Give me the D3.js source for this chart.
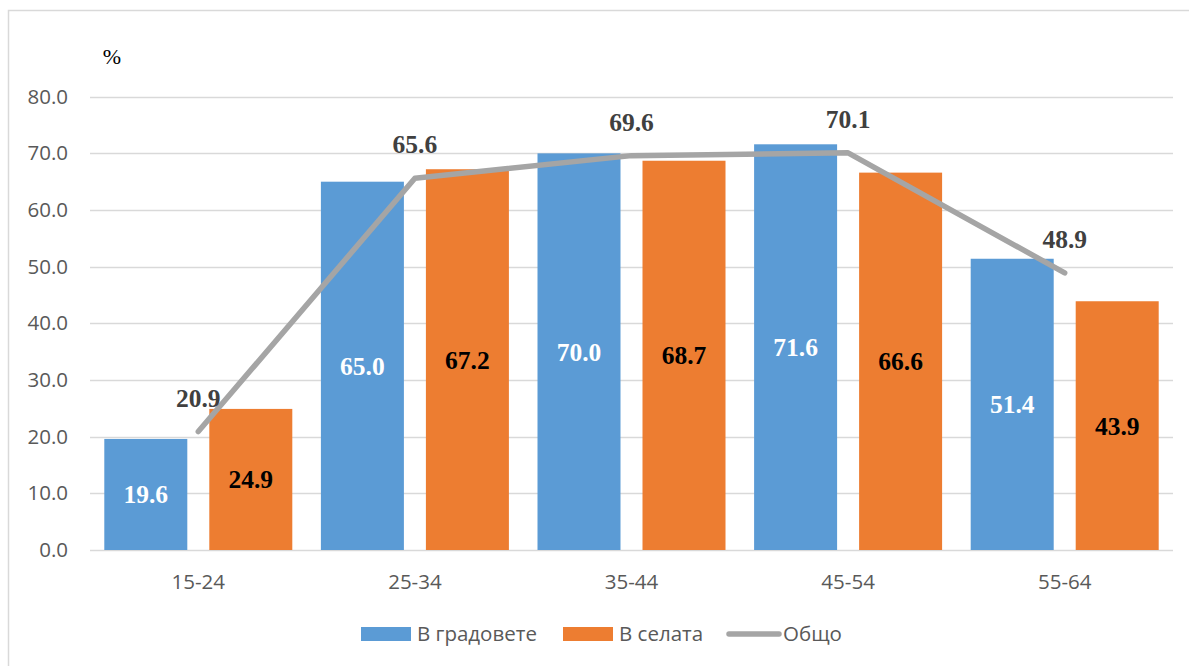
<!DOCTYPE html>
<html>
<head>
<meta charset="utf-8">
<script src="https://cdn.jsdelivr.net/npm/d3@7"></script>
<style>
  html, body { margin: 0; padding: 0; background: #fff; }
  svg { display: block; }
</style>
</head>
<body>
<svg id="chart" width="1189" height="666"></svg>
<script>
const categories = ["15-24", "25-34", "35-44", "45-54", "55-64"];
const cityValues = [19.6, 65.0, 70.0, 71.6, 51.4];
const villageValues = [24.9, 67.2, 68.7, 66.6, 43.9];
const totalValues = [20.9, 65.6, 69.6, 70.1, 48.9];
const yTicks = [0, 10, 20, 30, 40, 50, 60, 70, 80];
const seriesNames = ["В градовете", "В селата", "Общо"];
const unitLabel = "%";

const colors = { city: "#5B9BD5", village: "#ED7D31", total: "#A5A5A5" };
const svg = d3.select("#chart");
const plotLeft = 90, plotRight = 1173, plotTop = 96.7, plotBottom = 550;
const axisFontSize = 20.5;

// outer border
svg.append("rect").attr("x", 8.5).attr("y", 10.5).attr("width", 1200).attr("height", 700)
  .attr("fill", "none").attr("stroke", "#d9d9d9").attr("stroke-width", 1.5);

const x = d3.scaleBand().domain(categories).range([plotLeft, plotRight]).paddingInner(0).paddingOuter(0);
const y = d3.scaleLinear().domain([0, 80]).range([plotBottom, plotTop]);

// gridlines
svg.append("g").selectAll("line").data(yTicks).join("line")
  .attr("x1", plotLeft).attr("x2", plotRight)
  .attr("y1", d => Math.round(y(d)) + 0.5).attr("y2", d => Math.round(y(d)) + 0.5)
  .attr("stroke", "#d9d9d9").attr("stroke-width", 1.3);

// y axis labels
const yAxis = d3.axisLeft(y).tickValues(yTicks).tickFormat(d3.format(".1f")).tickSize(0).tickPadding(0);
const gy = svg.append("g").attr("transform", `translate(68,0)`).call(yAxis);
gy.select(".domain").remove();
gy.selectAll("text").attr("font-family", "'Open Sans', sans-serif").attr("font-size", axisFontSize)
  .attr("fill", "#595959");

// x axis labels
const xAxis = d3.axisBottom(x).tickSize(0).tickPadding(0);
const gx = svg.append("g").attr("transform", `translate(0,${plotBottom + 24})`).call(xAxis);
gx.select(".domain").remove();
gx.selectAll("text").attr("font-family", "'Open Sans', sans-serif").attr("font-size", axisFontSize)
  .attr("fill", "#595959");

// unit
svg.append("text").attr("x", 112).attr("y", 64).attr("text-anchor", "middle")
  .attr("font-family", "'Liberation Serif', serif").attr("font-size", 22).attr("fill", "#000")
  .text(unitLabel);

// bars
const barW = 83, offset = 52.5;
const cx = c => x(c) + x.bandwidth() / 2;
const gBars = svg.append("g");
gBars.selectAll(".city").data(categories).join("rect").attr("class", "city")
  .attr("x", (c) => cx(c) - offset - barW / 2).attr("width", barW)
  .attr("y", (c, i) => y(cityValues[i])).attr("height", (c, i) => y(0) - y(cityValues[i]))
  .attr("fill", colors.city);
gBars.selectAll(".village").data(categories).join("rect").attr("class", "village")
  .attr("x", (c) => cx(c) + offset - barW / 2).attr("width", barW)
  .attr("y", (c, i) => y(villageValues[i])).attr("height", (c, i) => y(0) - y(villageValues[i]))
  .attr("fill", colors.village);

// bar labels
const labelFont = "'Liberation Serif', 'Times New Roman', serif";
const labelSize = 25.5;
gBars.selectAll(".cityLbl").data(categories).join("text")
  .attr("x", c => cx(c) - offset)
  .attr("y", (c, i) => (y(cityValues[i]) + y(0)) / 2 + 9)
  .attr("text-anchor", "middle").attr("font-family", labelFont).attr("font-weight", "bold")
  .attr("font-size", labelSize).attr("fill", "#fff").text((c, i) => cityValues[i].toFixed(1));
gBars.selectAll(".villLbl").data(categories).join("text")
  .attr("x", c => cx(c) + offset)
  .attr("y", (c, i) => (y(villageValues[i]) + y(0)) / 2 + 9)
  .attr("text-anchor", "middle").attr("font-family", labelFont).attr("font-weight", "bold")
  .attr("font-size", labelSize).attr("fill", "#000").text((c, i) => villageValues[i].toFixed(1));

// line
const line = d3.line().x((d, i) => cx(categories[i])).y(d => y(d));
svg.append("path").datum(totalValues).attr("d", line)
  .attr("fill", "none").attr("stroke", colors.total).attr("stroke-width", 5.5)
  .attr("stroke-linecap", "round").attr("stroke-linejoin", "round");

svg.append("g").selectAll("text").data(totalValues).join("text")
  .attr("x", (d, i) => cx(categories[i]))
  .attr("y", d => y(d) - 25)
  .attr("text-anchor", "middle").attr("font-family", labelFont).attr("font-weight", "bold")
  .attr("font-size", labelSize).attr("fill", "#404040").text(d => d.toFixed(1));

// legend
const lg = svg.append("g").attr("font-family", "'Open Sans', sans-serif").attr("font-size", axisFontSize).attr("fill", "#595959");
const legendItems = [
  { name: seriesNames[0], x: 361, type: "rect", color: colors.city },
  { name: seriesNames[1], x: 563, type: "rect", color: colors.village },
  { name: seriesNames[2], x: 727, type: "line", color: colors.total }
];
legendItems.forEach(it => {
  if (it.type === "rect") {
    lg.append("rect").attr("x", it.x).attr("y", 627).attr("width", 50).attr("height", 14).attr("fill", it.color);
  } else {
    lg.append("line").attr("x1", it.x + 2).attr("x2", it.x + 52).attr("y1", 634).attr("y2", 634)
      .attr("stroke", it.color).attr("stroke-width", 5.5).attr("stroke-linecap", "round");
  }
  lg.append("text").attr("x", it.x + 56).attr("y", 641).text(it.name);
});
</script>
</body>
</html>
